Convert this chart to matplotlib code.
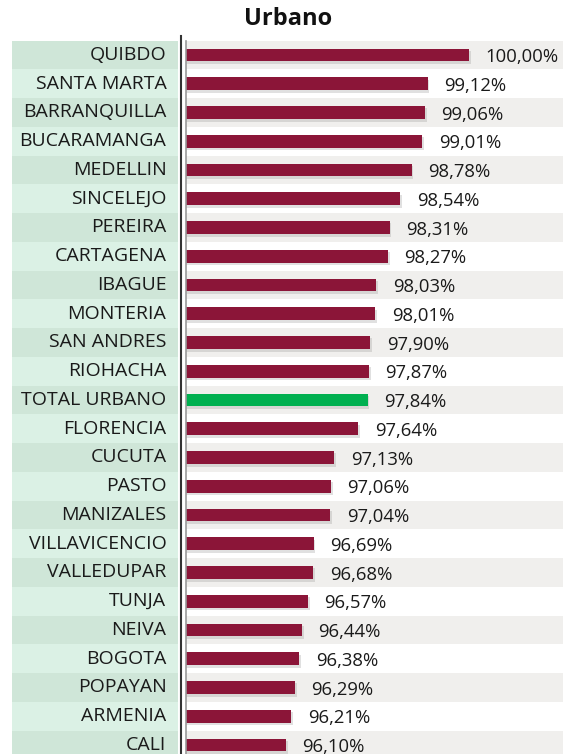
import matplotlib
matplotlib.use("Agg")
import matplotlib.pyplot as plt
import numpy as np

# data
ciudades = ["QUIBDO", "SANTA MARTA", "BARRANQUILLA", "BUCARAMANGA", "MEDELLIN",
            "SINCELEJO", "PEREIRA", "CARTAGENA", "IBAGUE", "MONTERIA",
            "SAN ANDRES", "RIOHACHA", "TOTAL URBANO", "FLORENCIA", "CUCUTA",
            "PASTO", "MANIZALES", "VILLAVICENCIO", "VALLEDUPAR", "TUNJA",
            "NEIVA", "BOGOTA", "POPAYAN", "ARMENIA", "CALI"]
valores = [100.00, 99.12, 99.06, 99.01, 98.78, 98.54, 98.31, 98.27, 98.03, 98.01,
           97.90, 97.87, 97.84, 97.64, 97.13, 97.06, 97.04, 96.69, 96.68, 96.57,
           96.44, 96.38, 96.29, 96.21, 96.10]
total = "TOTAL URBANO"

plt.rcParams['font.family'] = ['Open Sans', 'DejaVu Sans']

W, H = 563, 754
fig = plt.figure(figsize=(W / 100, H / 100), dpi=100)

top = 40.6
row_h = 28.75
y_bottom = (H - 55) / row_h  # row index at bottom edge
base = 93.97
xmax = base + (W - 186) / 46.9

ax = fig.add_axes([186 / W, 0, (W - 186) / W, (H - top) / H])
lab = fig.add_axes([12 / W, 0, 166 / W, (H - top) / H])

y = np.arange(len(ciudades))
vals = np.array(valores)

# row shading
for i in y:
    if i % 2 == 0:
        ax.axhspan(i - 0.5, i + 0.5, color="#f0efed", lw=0, zorder=0)
        lab.axhspan(i - 0.5, i + 0.5, color="#cfe6d8", lw=0, zorder=0)
    else:
        lab.axhspan(i - 0.5, i + 0.5, color="#dbf1e5", lw=0, zorder=0)

colores = ["#00b050" if c == total else "#8b1538" for c in ciudades]

# shadow then bars
ax.barh(y + 0.09, vals - base + 0.04, left=base, height=0.46,
        color="#9a9a9a", alpha=0.3, lw=0, zorder=1)
ax.barh(y, vals - base, left=base, height=0.44, color=colores, lw=0, zorder=2)

for yi, v in zip(y, vals):
    txt = f"{v:.2f}".replace(".", ",") + "%"
    ax.annotate(txt, (v, yi), xytext=(12, -1.5), textcoords="offset points",
                va="center", ha="left", fontsize=13.3, color="#1a1a1a")

ax.set_xlim(base, xmax)
ax.set_ylim(y_bottom, -0.5)
ax.set_xticks([])
ax.set_yticks([])
for s in ["top", "right", "bottom"]:
    ax.spines[s].set_visible(False)
ax.spines["left"].set_color("#999999")
ax.spines["left"].set_linewidth(1.2)

lab.set_xlim(0, 1)
lab.set_ylim(y_bottom, -0.5)
lab.axis("off")
for yi, c in zip(y, ciudades):
    lab.text(0.93, yi, c, ha="right", va="center", fontsize=14, color="#1a1a1a")

# dark separator line
fig.add_artist(plt.Line2D([180.5 / W, 180.5 / W], [0, (H - 36) / H],
                          color="#333333", lw=1.5))

fig.text(288 / W, 1 - 19 / H, "Urbano", ha="center", va="center",
         fontsize=17, fontweight="bold", color="#111111")

fig.savefig("out.png", dpi=100)
